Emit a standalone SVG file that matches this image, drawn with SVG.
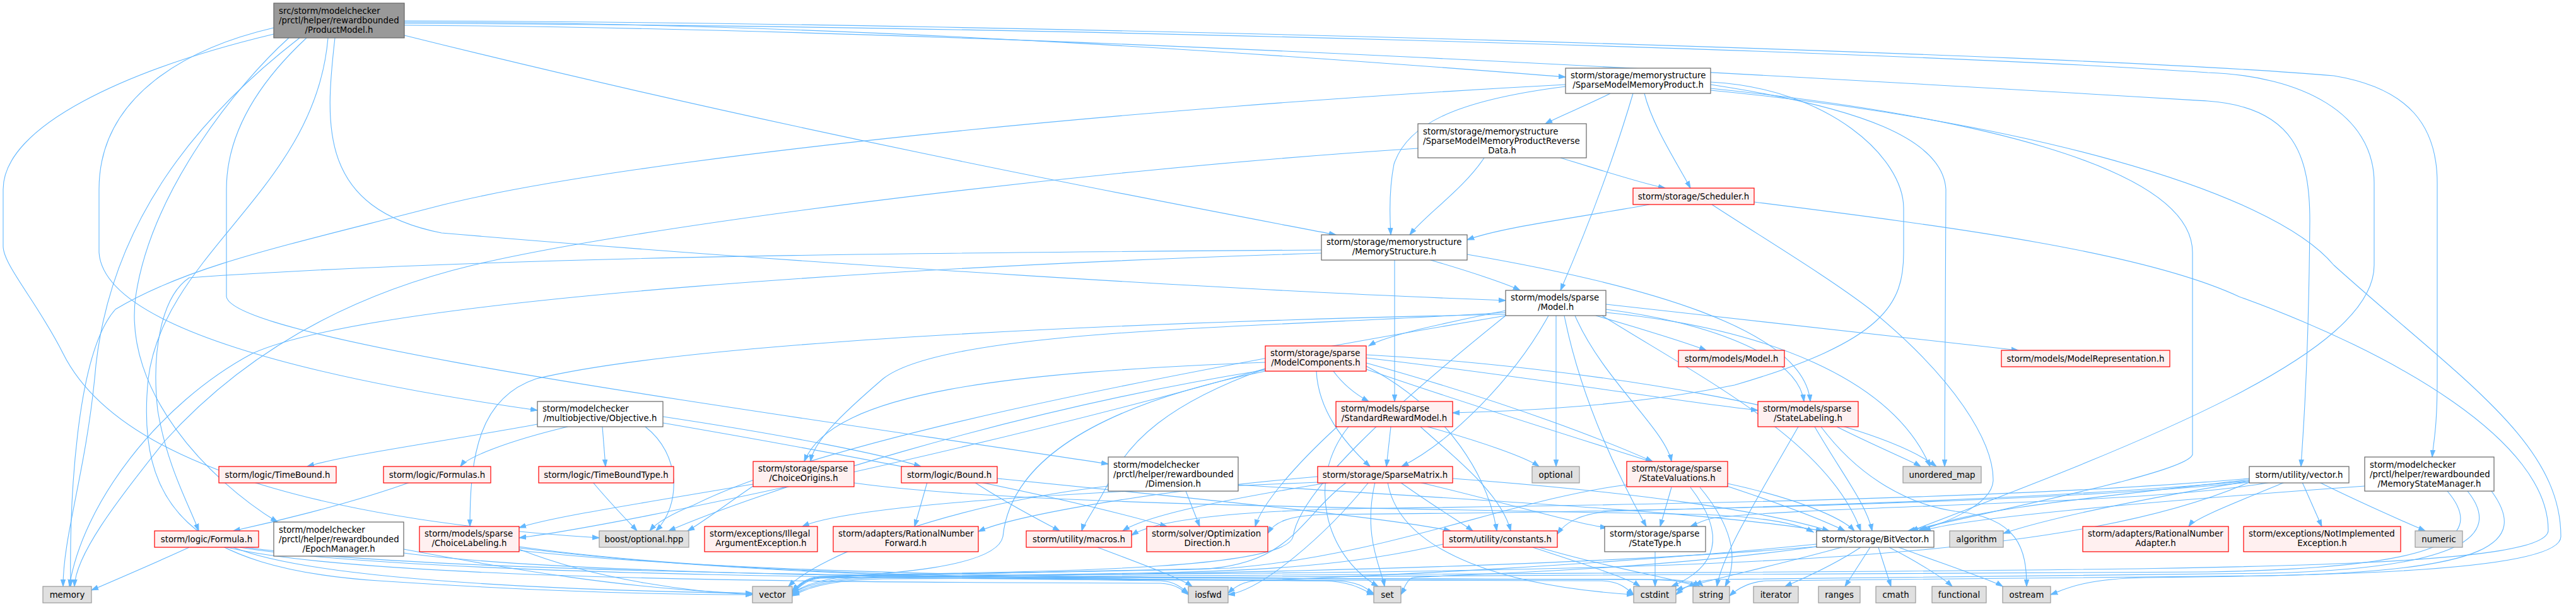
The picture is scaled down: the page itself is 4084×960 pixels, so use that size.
<svg xmlns="http://www.w3.org/2000/svg" width="4084" height="960" viewBox="0 0 4084 960">
<style>
.e path{fill:none;stroke:#63b8ff;stroke-width:1.1;marker-end:url(#arr)}
.n text{font-family:"DejaVu Sans","Liberation Sans",sans-serif;font-size:13.33px;fill:#000}
.n .m{text-anchor:middle}
.r{fill:#fff0f0;stroke:#ff0000;stroke-width:1.2}
.g{fill:#e0e0e0;stroke:#999999;stroke-width:1.2}
.w{fill:#ffffff;stroke:#666666;stroke-width:1.2}
.root{fill:#999999;stroke:#666666;stroke-width:1.2}
</style>
<defs>
<marker id="arr" markerUnits="userSpaceOnUse" markerWidth="12" markerHeight="9" viewBox="0 0 12 9" refX="11" refY="4.5" orient="auto">
<path d="M0,0.8 L11,4.5 L0,8.2 Z" fill="#63b8ff" stroke="#63b8ff" stroke-width="1"/>
</marker>
</defs>
<rect x="0" y="0" width="4084" height="960" fill="#ffffff"/>
<g id="edges" class="e">
<path d="M641,35 C1400,35 2200,100 2482,122"/>
<path d="M641,56 C1300,220 1900,330 2118,372"/>
<path d="M531,60 C515,200 505,330 700,369 C1300,420 2000,462 2387,476"/>
<path d="M434,44 C300,75 157,150 157,300 L157,400 C165,520 500,600 852,650"/>
<path d="M486,60 C400,140 359,220 359,300 L359,470 C370,540 1200,650 1757,735"/>
<path d="M458,60 C380,130 240,300 215,470 C195,620 330,760 440,827"/>
<path d="M434,54 C200,110 5,200 5,300 L5,390 C5,420 60,480 100,560 C200,760 600,830 950,852"/>
<path d="M475,60 C320,180 170,350 150,600 C135,750 100,850 100,929"/>
<path d="M520,60 C500,300 260,400 235,600 C215,800 300,900 600,920 C900,940 1100,942 1193,942"/>
<path d="M641,40 C1600,45 3000,130 3500,160 C3640,170 3662,250 3662,350 C3660,600 3650,700 3648,739"/>
<path d="M641,33 C1600,35 3300,85 3700,120 C3820,140 3864,200 3864,290 L3864,600 C3864,680 3858,700 3856,724"/>
<path d="M641,37 C1600,40 3000,80 3500,115 C3650,120 3764,180 3764,290 L3764,420 C3764,560 3400,700 3030,841"/>
<path d="M2553,148 C2520,165 2470,185 2450,196"/>
<path d="M2607,148 C2620,200 2660,260 2680,298"/>
<path d="M2482,137 C2300,160 2230,200 2210,260 C2202,300 2203,340 2205,372"/>
<path d="M2589,148 C2550,280 2500,400 2474,460"/>
<path d="M2712,130 C2900,140 3018,250 3018,330 L3018,400 C3018,480 2990,540 2750,610 C2600,640 2450,650 2303,654"/>
<path d="M2712,134 C2950,170 3080,220 3085,300 L3083,739"/>
<path d="M2712,140 C3100,180 3476,260 3476,400 L3476,720 C3470,745 3250,790 3025,841"/>
<path d="M2482,134 C1800,170 1000,250 700,325 C450,390 300,420 183,490 C120,560 110,800 112,929"/>
<path d="M2712,143 C3200,190 3600,300 3700,420 C3900,600 4060,700 4060,850 C4060,905 3700,912 3400,915 C3300,917 3270,935 3251,942"/>
<path d="M2353,250 C2320,300 2260,340 2235,372"/>
<path d="M2474,250 C2540,270 2600,290 2640,298"/>
<path d="M2248,235 C1700,270 1000,360 750,420 C500,480 350,600 260,700 C180,800 120,880 118,929"/>
<path d="M2615,324 C2500,345 2380,360 2326,380"/>
<path d="M2714,324 C2800,380 2900,440 2965,490 C3100,600 3160,700 3160,760 C3160,800 3080,830 3040,841"/>
<path d="M2781,320 C3100,360 3400,400 3550,470 C3800,560 4040,700 4040,840 C4040,895 3600,900 3000,905 L1400,915 C1300,917 1270,935 1256,942"/>
<path d="M2268,412 C2330,430 2390,450 2410,460"/>
<path d="M2211,412 L2211,636"/>
<path d="M2326,403 C2600,450 2860,520 2870,636"/>
<path d="M2095,396 C1500,400 800,405 300,440 C255,470 240,560 250,650 C265,740 300,800 315,841"/>
<path d="M2095,401 C1500,420 600,470 400,560 C250,640 130,800 110,929"/>
<path d="M2387,492 C2300,510 2200,530 2170,548"/>
<path d="M2530,500 C2600,520 2680,545 2705,555"/>
<path d="M2546,482 C2800,510 3100,545 3200,555"/>
<path d="M2546,490 C2700,510 2850,560 2860,636"/>
<path d="M2455,500 C2400,600 2300,700 2222,739"/>
<path d="M2467,500 L2467,739"/>
<path d="M2497,500 C2540,600 2640,680 2650,731"/>
<path d="M2480,500 C2510,650 2580,780 2610,834"/>
<path d="M2546,495 C2800,520 3000,600 3060,739"/>
<path d="M2387,495 C2000,520 1500,520 1400,600 C1330,660 1290,700 1285,731"/>
<path d="M2387,498 C1800,510 1100,540 850,600 C760,630 745,720 745,834"/>
<path d="M2387,500 C1800,600 1300,700 1100,800 C1050,820 1035,835 1030,841"/>
<path d="M2540,500 C2700,600 2900,700 2950,841"/>
<path d="M2387,500 C2200,650 2060,780 2050,850 C2040,900 1700,905 1400,910 C1300,912 1270,930 1256,940"/>
<path d="M2114,588 C2130,610 2150,625 2170,636"/>
<path d="M2087,588 C2090,650 2130,700 2172,739"/>
<path d="M2166,567 C2450,600 2650,635 2787,650"/>
<path d="M2166,562 C2500,580 2950,650 3070,739"/>
<path d="M2166,575 C2400,640 2550,700 2620,731"/>
<path d="M2006,574 C1600,590 1320,620 1275,731"/>
<path d="M2006,584 C1600,700 1000,830 823,852"/>
<path d="M2006,584 C1850,640 1790,700 1760,760 C1740,800 1718,830 1715,841"/>
<path d="M2166,580 C2300,650 2360,760 2373,841"/>
<path d="M2166,585 C2500,700 2800,780 2925,841"/>
<path d="M2006,588 C1700,650 1600,750 1590,850 C1580,900 1400,910 1300,915 C1275,917 1262,930 1256,936"/>
<path d="M2006,586 C1600,650 1200,780 1060,841"/>
<path d="M852,672 C700,700 550,720 487,739"/>
<path d="M900,676 C800,700 740,725 730,739"/>
<path d="M955,676 L960,739"/>
<path d="M1051,660 C1250,690 1400,720 1460,739"/>
<path d="M1023,676 C1080,720 1080,800 1040,841"/>
<path d="M1051,670 C1400,730 1700,790 1850,834"/>
<path d="M2205,676 L2198,739"/>
<path d="M2263,676 C2350,700 2420,725 2440,739"/>
<path d="M2252,676 C2300,720 2380,780 2395,841"/>
<path d="M2138,676 C2070,760 2100,880 2185,929"/>
<path d="M2120,676 C2050,740 2000,800 1990,834"/>
<path d="M2912,676 C2980,710 3030,730 3045,739"/>
<path d="M2877,676 C2920,750 2960,800 2968,841"/>
<path d="M2887,676 C2950,760 3030,800 3100,810 C3200,820 3213,870 3213,929"/>
<path d="M2851,676 C2780,800 2730,880 2722,929"/>
<path d="M3566,760 C3300,790 3100,810 3045,841"/>
<path d="M3566,762 C3400,790 3250,820 3176,845"/>
<path d="M3622,764 C3560,790 3480,820 3470,834"/>
<path d="M3650,764 L3681,834"/>
<path d="M3677,764 C3750,800 3820,830 3845,841"/>
<path d="M3566,758 C3200,790 2600,800 2200,805 C1950,808 1830,825 1794,848"/>
<path d="M3566,762 C3200,795 2700,805 2550,810 C2500,815 2480,830 2469,846"/>
<path d="M3566,764 C3200,800 2500,812 2100,815 C2040,817 2020,828 2010,845"/>
<path d="M3600,764 C3400,800 2900,800 2720,820 C2700,823 2690,830 2680,834"/>
<path d="M3566,764 C3300,880 2800,900 2000,908 L1400,913 C1300,915 1270,932 1256,940"/>
<path d="M3749,770 C3400,795 3100,822 3050,841"/>
<path d="M3880,778 C3950,860 3850,900 3500,906 L1400,917 C1300,919 1270,937 1256,944"/>
<path d="M3912,778 C3970,850 3900,900 3600,908 L2720,918 C2680,920 2665,935 2657,942"/>
<path d="M3950,778 C4010,860 3950,905 3600,912 L2800,920 C2770,922 2752,935 2742,944"/>
<path d="M650,764 C550,800 420,830 370,841"/>
<path d="M940,764 C970,800 1000,830 1010,841"/>
<path d="M1470,764 L1450,834"/>
<path d="M1545,764 C1600,800 1660,830 1680,841"/>
<path d="M1581,758 C1900,790 2200,820 2300,841"/>
<path d="M1194,767 C1000,800 870,820 823,836"/>
<path d="M1354,765 C1600,800 2200,805 2700,815 C2820,820 2860,835 2875,843"/>
<path d="M1194,770 C1150,800 1110,830 1090,841"/>
<path d="M1880,778 L1902,834"/>
<path d="M1963,768 C2300,790 2700,810 2890,841"/>
<path d="M1757,770 C1500,800 1300,880 1250,929"/>
<path d="M2303,758 C2600,780 2800,810 2900,841"/>
<path d="M2220,764 C2270,800 2320,830 2335,841"/>
<path d="M2250,764 C2400,800 2500,830 2548,836"/>
<path d="M2135,764 C2060,820 2050,895 1900,902 L1300,913 C1275,915 1262,930 1256,938"/>
<path d="M2200,764 C2220,880 2400,930 2590,942"/>
<path d="M2170,764 C2100,850 2000,935 1947,942"/>
<path d="M2089,755 C1800,780 1600,820 1551,842"/>
<path d="M2110,764 C1950,790 1820,815 1780,841"/>
<path d="M2180,764 C2160,850 2190,900 2195,929"/>
<path d="M2089,764 C1700,780 1350,800 1272,834"/>
<path d="M2650,772 L2632,834"/>
<path d="M2680,772 C2740,850 2720,900 2650,929"/>
<path d="M2695,772 C2760,850 2750,900 2735,929"/>
<path d="M2739,766 C2850,790 2920,820 2940,841"/>
<path d="M2579,768 C2400,790 2200,880 1950,900 L1300,914 C1275,916 1262,932 1256,940"/>
<path d="M300,867 C250,890 180,920 145,935"/>
<path d="M370,867 C500,920 900,935 1193,940"/>
<path d="M380,867 C700,920 1800,918 2100,920 C2150,922 2165,938 2178,942"/>
<path d="M390,867 C800,925 2300,915 2600,918 C2660,919 2685,922 2695,929"/>
<path d="M360,867 C600,925 1500,922 1840,924 C1865,925 1878,937 1884,942"/>
<path d="M640,870 C800,900 1000,935 1193,940"/>
<path d="M640,876 C1000,925 2200,918 2540,920 C2570,921 2582,935 2590,942"/>
<path d="M823,870 C950,920 1100,938 1193,942"/>
<path d="M823,866 C1200,920 1900,918 2120,920 C2160,922 2170,936 2178,940"/>
<path d="M823,872 C1300,925 2300,916 2640,918 C2680,919 2695,924 2700,929"/>
<path d="M823,868 C1200,915 1700,918 1840,920 C1865,921 1878,935 1884,940"/>
<path d="M1740,867 C1800,890 1870,915 1890,929"/>
<path d="M2430,867 C2500,890 2580,915 2600,929"/>
<path d="M2440,867 C2550,900 2650,915 2690,929"/>
<path d="M2288,862 C2150,895 2000,905 1800,908 L1300,916 C1275,918 1262,935 1256,943"/>
<path d="M2624,874 L2624,929"/>
<path d="M2880,862 C2500,900 2100,915 1990,920 C1965,922 1952,935 1947,940"/>
<path d="M2920,867 C2800,900 2700,920 2657,935"/>
<path d="M2950,867 C2900,900 2850,920 2830,929"/>
<path d="M2965,867 L2925,929"/>
<path d="M2978,867 L2998,929"/>
<path d="M2995,867 C3040,890 3080,915 3095,929"/>
<path d="M3010,867 C3100,900 3160,920 3175,929"/>
<path d="M2880,866 C2400,905 1700,912 1300,915 C1275,917 1262,932 1256,944"/>
<path d="M2880,866 C2600,905 2300,910 2240,915 C2230,918 2225,935 2221,942"/>
</g>
<g id="n0" class="n"><rect class="root" x="434" y="5" width="207" height="55"/><text x="442" y="21.5">src/storm/modelchecker</text><text x="442" y="36.5">/prctl/helper/rewardbounded</text><text class="m" x="537.5" y="51.5">/ProductModel.h</text></g>
<g id="n1" class="n"><rect class="w" x="2482" y="108" width="230" height="40"/><text x="2490" y="124">storm/storage/memorystructure</text><text class="m" x="2597" y="139">/SparseModelMemoryProduct.h</text></g>
<g id="n2" class="n"><rect class="w" x="2248" y="196" width="267" height="54"/><text x="2256" y="212.5">storm/storage/memorystructure</text><text x="2256" y="227.5">/SparseModelMemoryProductReverse</text><text class="m" x="2381.5" y="242.5">Data.h</text></g>
<g id="n3" class="n"><rect class="r" x="2589" y="298" width="192" height="26"/><text class="m" x="2685" y="315.5">storm/storage/Scheduler.h</text></g>
<g id="n4" class="n"><rect class="w" x="2095" y="372" width="231" height="40"/><text x="2103" y="388">storm/storage/memorystructure</text><text class="m" x="2210.5" y="403">/MemoryStructure.h</text></g>
<g id="n5" class="n"><rect class="w" x="2387" y="460" width="159" height="40"/><text x="2395" y="476">storm/models/sparse</text><text class="m" x="2466.5" y="491">/Model.h</text></g>
<g id="n6" class="n"><rect class="r" x="2006" y="548" width="160" height="40"/><text x="2014" y="564">storm/storage/sparse</text><text class="m" x="2086" y="579">/ModelComponents.h</text></g>
<g id="n7" class="n"><rect class="r" x="2661" y="555" width="168" height="26"/><text class="m" x="2745" y="572.5">storm/models/Model.h</text></g>
<g id="n8" class="n"><rect class="r" x="3173" y="555" width="267" height="26"/><text class="m" x="3306.5" y="572.5">storm/models/ModelRepresentation.h</text></g>
<g id="n9" class="n"><rect class="w" x="852" y="636" width="199" height="40"/><text x="860" y="652">storm/modelchecker</text><text class="m" x="951.5" y="667">/multiobjective/Objective.h</text></g>
<g id="n10" class="n"><rect class="r" x="2118" y="636" width="185" height="40"/><text x="2126" y="652">storm/models/sparse</text><text class="m" x="2210.5" y="667">/StandardRewardModel.h</text></g>
<g id="n11" class="n"><rect class="r" x="2787" y="636" width="159" height="40"/><text x="2795" y="652">storm/models/sparse</text><text class="m" x="2866.5" y="667">/StateLabeling.h</text></g>
<g id="n12" class="n"><rect class="w" x="3566" y="739" width="158" height="26"/><text class="m" x="3645" y="756.5">storm/utility/vector.h</text></g>
<g id="n13" class="n"><rect class="w" x="3749" y="724" width="205" height="54"/><text x="3757" y="740.5">storm/modelchecker</text><text x="3757" y="755.5">/prctl/helper/rewardbounded</text><text class="m" x="3851.5" y="770.5">/MemoryStateManager.h</text></g>
<g id="n14" class="n"><rect class="r" x="347" y="739" width="186" height="26"/><text class="m" x="440" y="756.5">storm/logic/TimeBound.h</text></g>
<g id="n15" class="n"><rect class="r" x="608" y="739" width="170" height="26"/><text class="m" x="693" y="756.5">storm/logic/Formulas.h</text></g>
<g id="n16" class="n"><rect class="r" x="854" y="739" width="214" height="26"/><text class="m" x="961" y="756.5">storm/logic/TimeBoundType.h</text></g>
<g id="n17" class="n"><rect class="r" x="1429" y="739" width="152" height="26"/><text class="m" x="1505" y="756.5">storm/logic/Bound.h</text></g>
<g id="n18" class="n"><rect class="r" x="1194" y="731" width="160" height="40"/><text x="1202" y="747">storm/storage/sparse</text><text class="m" x="1274" y="762">/ChoiceOrigins.h</text></g>
<g id="n19" class="n"><rect class="w" x="1757" y="724" width="206" height="54"/><text x="1765" y="740.5">storm/modelchecker</text><text x="1765" y="755.5">/prctl/helper/rewardbounded</text><text class="m" x="1860" y="770.5">/Dimension.h</text></g>
<g id="n20" class="n"><rect class="r" x="2089" y="739" width="214" height="26"/><text class="m" x="2196" y="756.5">storm/storage/SparseMatrix.h</text></g>
<g id="n21" class="n"><rect class="g" x="2429" y="739" width="75" height="26"/><text class="m" x="2466.5" y="756.5">optional</text></g>
<g id="n22" class="n"><rect class="r" x="2579" y="731" width="160" height="40"/><text x="2587" y="747">storm/storage/sparse</text><text class="m" x="2659" y="762">/StateValuations.h</text></g>
<g id="n23" class="n"><rect class="g" x="3017" y="739" width="124" height="26"/><text class="m" x="3079" y="756.5">unordered_map</text></g>
<g id="n24" class="n"><rect class="r" x="245" y="841" width="165" height="26"/><text class="m" x="327.5" y="858.5">storm/logic/Formula.h</text></g>
<g id="n25" class="n"><rect class="w" x="434" y="827" width="206" height="54"/><text x="442" y="843.5">storm/modelchecker</text><text x="442" y="858.5">/prctl/helper/rewardbounded</text><text class="m" x="537" y="873.5">/EpochManager.h</text></g>
<g id="n26" class="n"><rect class="r" x="665" y="834" width="158" height="40"/><text x="673" y="850">storm/models/sparse</text><text class="m" x="744" y="865">/ChoiceLabeling.h</text></g>
<g id="n27" class="n"><rect class="g" x="950" y="841" width="142" height="26"/><text class="m" x="1021" y="858.5">boost/optional.hpp</text></g>
<g id="n28" class="n"><rect class="r" x="1117" y="834" width="179" height="40"/><text x="1125" y="850">storm/exceptions/Illegal</text><text class="m" x="1206.5" y="865">ArgumentException.h</text></g>
<g id="n29" class="n"><rect class="r" x="1321" y="834" width="230" height="40"/><text x="1329" y="850">storm/adapters/RationalNumber</text><text class="m" x="1436" y="865">Forward.h</text></g>
<g id="n30" class="n"><rect class="r" x="1627" y="841" width="167" height="26"/><text class="m" x="1710.5" y="858.5">storm/utility/macros.h</text></g>
<g id="n31" class="n"><rect class="r" x="1818" y="834" width="192" height="40"/><text x="1826" y="850">storm/solver/Optimization</text><text class="m" x="1914" y="865">Direction.h</text></g>
<g id="n32" class="n"><rect class="r" x="2288" y="841" width="181" height="26"/><text class="m" x="2378.5" y="858.5">storm/utility/constants.h</text></g>
<g id="n33" class="n"><rect class="w" x="2544" y="834" width="160" height="40"/><text x="2552" y="850">storm/storage/sparse</text><text class="m" x="2624" y="865">/StateType.h</text></g>
<g id="n34" class="n"><rect class="w" x="2880" y="841" width="186" height="26"/><text class="m" x="2973" y="858.5">storm/storage/BitVector.h</text></g>
<g id="n35" class="n"><rect class="g" x="3091" y="841" width="85" height="26"/><text class="m" x="3133.5" y="858.5">algorithm</text></g>
<g id="n36" class="n"><rect class="r" x="3302" y="834" width="231" height="40"/><text x="3310" y="850">storm/adapters/RationalNumber</text><text class="m" x="3417.5" y="865">Adapter.h</text></g>
<g id="n37" class="n"><rect class="r" x="3557" y="834" width="249" height="40"/><text x="3565" y="850">storm/exceptions/NotImplemented</text><text class="m" x="3681.5" y="865">Exception.h</text></g>
<g id="n38" class="n"><rect class="g" x="3829" y="841" width="75" height="26"/><text class="m" x="3866.5" y="858.5">numeric</text></g>
<g id="n39" class="n"><rect class="g" x="68" y="929" width="77" height="26"/><text class="m" x="106.5" y="946.5">memory</text></g>
<g id="n40" class="n"><rect class="g" x="1193" y="929" width="63" height="26"/><text class="m" x="1224.5" y="946.5">vector</text></g>
<g id="n41" class="n"><rect class="g" x="1884" y="929" width="63" height="26"/><text class="m" x="1915.5" y="946.5">iosfwd</text></g>
<g id="n42" class="n"><rect class="g" x="2178" y="929" width="43" height="26"/><text class="m" x="2199.5" y="946.5">set</text></g>
<g id="n43" class="n"><rect class="g" x="2590" y="929" width="67" height="26"/><text class="m" x="2623.5" y="946.5">cstdint</text></g>
<g id="n44" class="n"><rect class="g" x="2684" y="929" width="58" height="26"/><text class="m" x="2713" y="946.5">string</text></g>
<g id="n45" class="n"><rect class="g" x="2780" y="929" width="71" height="26"/><text class="m" x="2815.5" y="946.5">iterator</text></g>
<g id="n46" class="n"><rect class="g" x="2883" y="929" width="66" height="26"/><text class="m" x="2916" y="946.5">ranges</text></g>
<g id="n47" class="n"><rect class="g" x="2974" y="929" width="63" height="26"/><text class="m" x="3005.5" y="946.5">cmath</text></g>
<g id="n48" class="n"><rect class="g" x="3063" y="929" width="86" height="26"/><text class="m" x="3106" y="946.5">functional</text></g>
<g id="n49" class="n"><rect class="g" x="3175" y="929" width="76" height="26"/><text class="m" x="3213" y="946.5">ostream</text></g>
</svg>
